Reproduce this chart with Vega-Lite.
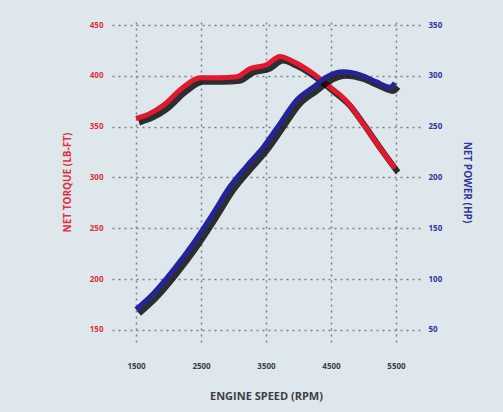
{
  "$schema": "https://vega.github.io/schema/vega-lite/v6.json",
  "width": 308,
  "height": 320,
  "autosize": "none",
  "padding": {"left": 112, "top": 22, "right": 83, "bottom": 70},
  "background": "#dee7ec",
  "config": {
    "view": {"stroke": null},
    "font": "Open Sans",
    "axis": {"domain": false, "ticks": false, "grid": true, "gridColor": "#76838f", "gridDash": [2, 4], "gridWidth": 1.5, "labelFont": "Open Sans", "titleFont": "Open Sans", "labelFontWeight": "bold", "titleFontWeight": "bold"}
  },
  "datasets": {
    "torque": [
      {"rpm": 1500, "value": 358}, {"rpm": 1715, "value": 363}, {"rpm": 1920, "value": 371},
      {"rpm": 2230, "value": 389}, {"rpm": 2485, "value": 398}, {"rpm": 2790, "value": 398},
      {"rpm": 3050, "value": 399}, {"rpm": 3250, "value": 407}, {"rpm": 3510, "value": 411},
      {"rpm": 3715, "value": 419}, {"rpm": 3920, "value": 414}, {"rpm": 4230, "value": 402},
      {"rpm": 4485, "value": 389}, {"rpm": 4740, "value": 375}, {"rpm": 4950, "value": 357},
      {"rpm": 5200, "value": 334}, {"rpm": 5485, "value": 309}
    ],
    "power": [
      {"rpm": 1500, "value": 70}, {"rpm": 1770, "value": 86}, {"rpm": 2075, "value": 109},
      {"rpm": 2380, "value": 135}, {"rpm": 2690, "value": 165}, {"rpm": 2945, "value": 191},
      {"rpm": 3200, "value": 211}, {"rpm": 3460, "value": 230}, {"rpm": 3715, "value": 253},
      {"rpm": 3970, "value": 276}, {"rpm": 4230, "value": 289}, {"rpm": 4435, "value": 299},
      {"rpm": 4690, "value": 304}, {"rpm": 4950, "value": 301}, {"rpm": 5200, "value": 294},
      {"rpm": 5410, "value": 289}, {"rpm": 5485, "value": 293}
    ]
  },
  "layer": [
    {
      "data": {"name": "torque"},
      "encoding": {
        "x": {"field": "rpm", "type": "quantitative", "scale": {"domain": [1130, 5870], "nice": false, "zero": false},
          "axis": {"values": [1500, 2500, 3500, 4500, 5500], "format": "d", "labelColor": "#3a3f45", "labelFontSize": 8, "labelPadding": 20, "title": "ENGINE SPEED (RPM)", "titleColor": "#3a3f45", "titleFontSize": 11, "titlePadding": 20}},
        "y": {"field": "value", "type": "quantitative", "scale": {"domain": [138, 453], "nice": false, "zero": false},
          "axis": {"orient": "left", "values": [150, 200, 250, 300, 350, 400, 450], "labelColor": "#e0303f", "labelFontSize": 8, "labelPadding": 9, "title": "NET TORQUE (LB-FT)", "titleColor": "#e0303f", "titleFontSize": 10, "titlePadding": 17}}
      },
      "layer": [
        {"mark": {"type": "line", "color": "#000000", "strokeWidth": 6, "opacity": 0.8, "xOffset": 3, "yOffset": 4, "interpolate": "monotone"}},
        {"mark": {"type": "line", "color": "#e3172e", "strokeWidth": 5, "interpolate": "monotone"}}
      ]
    },
    {
      "data": {"name": "power"},
      "encoding": {
        "x": {"field": "rpm", "type": "quantitative", "scale": {"domain": [1130, 5870], "nice": false, "zero": false}},
        "y": {"field": "value", "type": "quantitative", "scale": {"domain": [38, 353], "nice": false, "zero": false},
          "axis": {"orient": "right", "grid": false, "values": [50, 100, 150, 200, 250, 300, 350], "labelColor": "#35359a", "labelFontSize": 8, "labelPadding": 8, "title": "NET POWER (HP)", "titleColor": "#35359a", "titleFontSize": 10, "titlePadding": 20}}
      },
      "layer": [
        {"mark": {"type": "line", "color": "#000000", "strokeWidth": 6, "opacity": 0.8, "xOffset": 3, "yOffset": 4, "interpolate": "monotone"}},
        {"mark": {"type": "line", "color": "#23239c", "strokeWidth": 5, "interpolate": "monotone"}}
      ]
    }
  ],
  "resolve": {"scale": {"y": "independent"}, "axis": {"y": "independent"}}
}
